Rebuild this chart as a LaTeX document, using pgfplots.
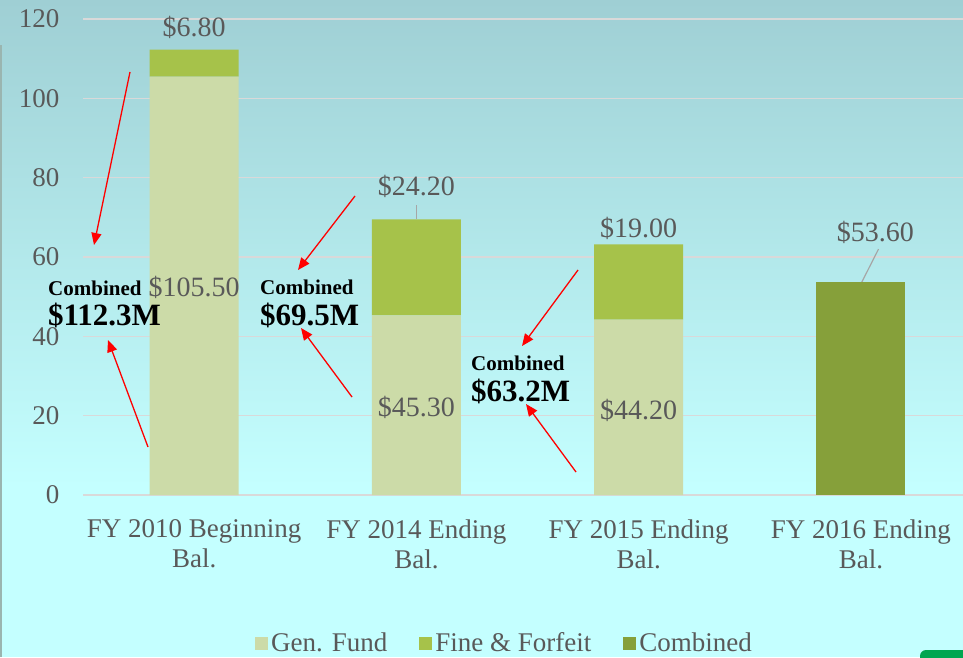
\documentclass[border=0pt]{standalone}
\usepackage{pgfplots}
\pgfplotsset{compat=1.18}
\usepackage{fontspec}
\setmainfont{Liberation Serif}
\usetikzlibrary{arrows.meta}
\definecolor{genc}{HTML}{CCDBA8}
\definecolor{finec}{HTML}{A6C24A}
\definecolor{combc}{HTML}{86A03A}
\definecolor{txtg}{HTML}{595959}
\definecolor{gridg}{HTML}{D9D9D9}
\definecolor{bgtop}{HTML}{9FCFD4}
\definecolor{bgbot}{HTML}{C4FFFF}
\definecolor{lead}{HTML}{A6A6A6}
\definecolor{edgeg}{HTML}{9AB5B0}
\definecolor{grn}{HTML}{00A651}
\tikzset{vlab/.style={font=\fontsize{28}{30}\selectfont, text=txtg}}
\begin{document}
\begin{tikzpicture}
\shade[top color=bgtop, bottom color=bgbot] (0pt,170pt) rectangle (963pt,657pt);
\fill[bgbot] (0pt,0pt) rectangle (963pt,170.5pt);
\draw[color=edgeg, line width=2pt] (1pt,0pt) -- (1pt,612pt);
\begin{axis}[
  at={(83pt,162pt)}, anchor=south west,
  scale only axis, width=880pt, height=476pt,
  xmin=-0.5, xmax=3.459, ymin=0, ymax=120,
  ybar stacked, bar width=89pt,
  axis line style={draw=none},
  major tick length=0pt,
  ymajorgrids, grid style={color=gridg, line width=1.5pt},
  ytick={0,20,...,120},
  xtick={0,1,2,3},
  xticklabels={{FY 2010 Beginning\\Bal.},{FY 2014 Ending\\Bal.},{FY 2015 Ending\\Bal.},{FY 2016 Ending\\Bal.}},
  /pgf/number format/assume math mode=true,
  yticklabel style={font=\fontsize{27}{30}\selectfont, text=txtg, xshift=-20pt},
  xticklabel style={font=\fontsize{27}{30}\selectfont, text=txtg, align=center, yshift=-21pt},
  legend style={at={(0.4795,-0.311)}, anchor=center, legend columns=3, draw=none, fill=none,
    font=\fontsize{27}{30}\selectfont, text=txtg, nodes={inner xsep=3pt},
    /tikz/every even column/.append style={column sep=29pt}},
  legend image code/.code={\draw[#1,draw=none] (0pt,-7pt) rectangle (13pt,6pt);},
  clip=false,
]
\addplot[fill=genc, draw=none] coordinates {(0,105.5) (1,45.3) (2,44.2) (3,0)};
\addlegendentry{Gen. Fund}
\addplot[fill=finec, draw=none] coordinates {(0,6.8) (1,24.2) (2,19.0) (3,0)};
\addlegendentry{Fine \& Forfeit}
\addplot[fill=combc, draw=none] coordinates {(0,0) (1,0) (2,0) (3,53.6)};
\addlegendentry{Combined}
\coordinate (a1) at (axis cs:0,118.0);
\coordinate (a2) at (axis cs:0,52.4);
\coordinate (a3) at (axis cs:1,77.9);
\coordinate (a4) at (axis cs:1,22.2);
\coordinate (a5) at (axis cs:2,67.1);
\coordinate (a6) at (axis cs:2,21.4);
\coordinate (a7) at (axis cs:3.065,66.3);
\draw[lead, line width=1.2pt] (axis cs:1,73.1) -- (axis cs:1,69.6);
\draw[lead, line width=1.2pt] (axis cs:3.079,62.0) -- (axis cs:3.003,53.6);
\end{axis}
\node[vlab] at (a1) {\$6.80};
\node[vlab] at (a2) {\$105.50};
\node[vlab] at (a3) {\$24.20};
\node[vlab] at (a4) {\$45.30};
\node[vlab] at (a5) {\$19.00};
\node[vlab] at (a6) {\$44.20};
\node[vlab] at (a7) {\$53.60};
% annotations
\node[anchor=west, inner sep=0pt] at (48pt,369pt) {\fontsize{21}{22}\selectfont\bfseries Combined};
\node[anchor=west, inner sep=0pt] at (48pt,342pt) {\fontsize{31}{30}\selectfont\bfseries \$112.3M};
\node[anchor=west, inner sep=0pt] at (260pt,370pt) {\fontsize{21}{22}\selectfont\bfseries Combined};
\node[anchor=west, inner sep=0pt] at (260pt,342pt) {\fontsize{31}{30}\selectfont\bfseries \$69.5M};
\node[anchor=west, inner sep=0pt] at (471pt,294pt) {\fontsize{21}{22}\selectfont\bfseries Combined};
\node[anchor=west, inner sep=0pt] at (471pt,266pt) {\fontsize{31}{30}\selectfont\bfseries \$63.2M};
\draw[red, line width=1.3pt, -{Triangle[length=12pt,width=10pt]}] (130pt,585pt) -- (94pt,412pt);
\draw[red, line width=1.3pt, -{Triangle[length=12pt,width=10pt]}] (148pt,210pt) -- (108pt,317pt);
\draw[red, line width=1.3pt, -{Triangle[length=12pt,width=10pt]}] (355pt,461pt) -- (298pt,387pt);
\draw[red, line width=1.3pt, -{Triangle[length=12pt,width=10pt]}] (352pt,260pt) -- (301pt,329pt);
\draw[red, line width=1.3pt, -{Triangle[length=12pt,width=10pt]}] (578pt,387pt) -- (522pt,311pt);
\draw[red, line width=1.3pt, -{Triangle[length=12pt,width=10pt]}] (576pt,185pt) -- (526pt,253pt);
\fill[grn, rounded corners=6pt] (920pt,-10pt) rectangle (980pt,7pt);
\pgfresetboundingbox
\useasboundingbox (0pt,0pt) rectangle (963pt,657pt);
\end{tikzpicture}
\end{document}
